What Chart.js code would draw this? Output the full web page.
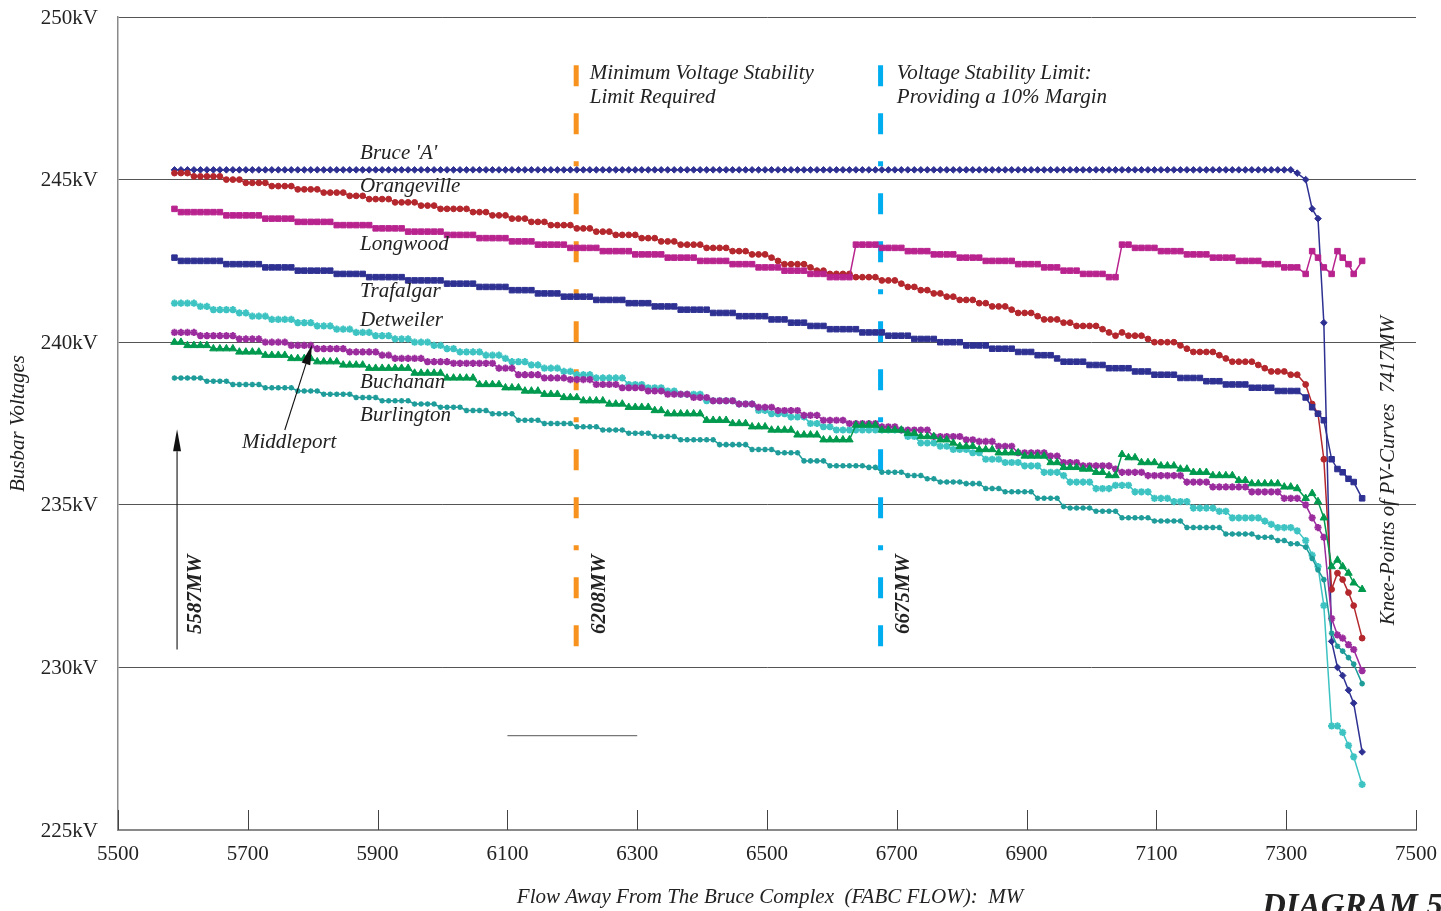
<!DOCTYPE html>
<html>
<head>
<meta charset="utf-8">
<script src="https://cdn.jsdelivr.net/npm/chart.js@4.4.1/dist/chart.umd.min.js"></script>
<style>
html,body{margin:0;padding:0;background:#fff;}
canvas{display:block;}
</style>
</head>
<body>
<canvas id="c" width="1441" height="911"></canvas>
<script>
// ---------- DATA ----------
const FLOW_MW = [
5587,5597,5607,5617,5627,5637,5647,5657,5667,5677,
5687,5697,5707,5717,5727,5737,5747,5757,5767,5777,
5787,5797,5807,5817,5827,5837,5847,5857,5867,5877,
5887,5897,5907,5917,5927,5937,5947,5957,5967,5977,
5987,5997,6007,6017,6027,6037,6047,6057,6067,6077,
6087,6097,6107,6117,6127,6137,6147,6157,6167,6177,
6187,6197,6207,6217,6227,6237,6247,6257,6267,6277,
6287,6297,6307,6317,6327,6337,6347,6357,6367,6377,
6387,6397,6407,6417,6427,6437,6447,6457,6467,6477,
6487,6497,6507,6517,6527,6537,6547,6557,6567,6577,
6587,6597,6607,6617,6627,6637,6647,6657,6667,6677,
6687,6697,6707,6717,6727,6737,6747,6757,6767,6777,
6787,6797,6807,6817,6827,6837,6847,6857,6867,6877,
6887,6897,6907,6917,6927,6937,6947,6957,6967,6977,
6987,6997,7007,7017,7027,7037,7047,7057,7067,7077,
7087,7097,7107,7117,7127,7137,7147,7157,7167,7177,
7187,7197,7207,7217,7227,7237,7247,7257,7267,7277,
7287,7297,7307,7317,
7330,7340,7349,7358,7370,7379,7387,7396,7404,7417];

const bruceA = [
245.3,245.3,245.3,245.3,245.3,245.3,245.3,245.3,245.3,245.3,
245.3,245.3,245.3,245.3,245.3,245.3,245.3,245.3,245.3,245.3,
245.3,245.3,245.3,245.3,245.3,245.3,245.3,245.3,245.3,245.3,
245.3,245.3,245.3,245.3,245.3,245.3,245.3,245.3,245.3,245.3,
245.3,245.3,245.3,245.3,245.3,245.3,245.3,245.3,245.3,245.3,
245.3,245.3,245.3,245.3,245.3,245.3,245.3,245.3,245.3,245.3,
245.3,245.3,245.3,245.3,245.3,245.3,245.3,245.3,245.3,245.3,
245.3,245.3,245.3,245.3,245.3,245.3,245.3,245.3,245.3,245.3,
245.3,245.3,245.3,245.3,245.3,245.3,245.3,245.3,245.3,245.3,
245.3,245.3,245.3,245.3,245.3,245.3,245.3,245.3,245.3,245.3,
245.3,245.3,245.3,245.3,245.3,245.3,245.3,245.3,245.3,245.3,
245.3,245.3,245.3,245.3,245.3,245.3,245.3,245.3,245.3,245.3,
245.3,245.3,245.3,245.3,245.3,245.3,245.3,245.3,245.3,245.3,
245.3,245.3,245.3,245.3,245.3,245.3,245.3,245.3,245.3,245.3,
245.3,245.3,245.3,245.3,245.3,245.3,245.3,245.3,245.3,245.3,
245.3,245.3,245.3,245.3,245.3,245.3,245.3,245.3,245.3,245.3,
245.3,245.3,245.3,245.3,245.3,245.3,245.3,245.3,245.3,245.3,
245.3,245.3,245.3,245.2,
245.0,244.1,243.8,240.6,230.8,230.0,229.75,229.3,228.9,227.4];

const orangeville = [
245.2,245.2,245.2,245.1,245.1,245.1,245.1,245.1,245.0,245.0,
245.0,244.9,244.9,244.9,244.9,244.8,244.8,244.8,244.8,244.7,
244.7,244.7,244.7,244.6,244.6,244.6,244.6,244.5,244.5,244.5,
244.4,244.4,244.4,244.4,244.3,244.3,244.3,244.3,244.2,244.2,
244.2,244.1,244.1,244.1,244.1,244.1,244.0,244.0,244.0,243.9,
243.9,243.9,243.8,243.8,243.8,243.7,243.7,243.7,243.6,243.6,
243.6,243.6,243.5,243.5,243.5,243.4,243.4,243.4,243.3,243.3,
243.3,243.3,243.2,243.2,243.2,243.1,243.1,243.1,243.0,243.0,
243.0,243.0,242.9,242.9,242.9,242.9,242.8,242.8,242.8,242.7,
242.7,242.7,242.6,242.5,242.4,242.4,242.4,242.4,242.3,242.2,
242.2,242.1,242.1,242.1,242.1,242.0,242.0,242.0,242.0,241.9,
241.9,241.9,241.8,241.7,241.7,241.6,241.6,241.5,241.5,241.4,
241.4,241.3,241.3,241.3,241.2,241.2,241.1,241.1,241.1,241.0,
240.9,240.9,240.9,240.8,240.7,240.7,240.7,240.6,240.6,240.5,
240.5,240.5,240.5,240.4,240.3,240.2,240.3,240.2,240.2,240.2,
240.1,240.0,240.0,240.0,240.0,239.9,239.8,239.7,239.7,239.7,
239.7,239.6,239.5,239.4,239.4,239.4,239.4,239.3,239.2,239.1,
239.1,239.1,239.0,239.0,
238.7,238.1,237.8,236.4,232.4,232.9,232.7,232.3,231.9,230.9];

const longwood = [
244.1,244.0,244.0,244.0,244.0,244.0,244.0,244.0,243.9,243.9,
243.9,243.9,243.9,243.9,243.8,243.8,243.8,243.8,243.8,243.7,
243.7,243.7,243.7,243.7,243.7,243.6,243.6,243.6,243.6,243.6,
243.6,243.5,243.5,243.5,243.5,243.5,243.4,243.4,243.4,243.4,
243.4,243.4,243.3,243.3,243.3,243.3,243.3,243.2,243.2,243.2,
243.2,243.2,243.1,243.1,243.1,243.1,243.0,243.0,243.0,243.0,
243.0,242.9,242.9,242.9,242.9,242.9,242.8,242.8,242.8,242.8,
242.8,242.7,242.7,242.7,242.7,242.7,242.6,242.6,242.6,242.6,
242.6,242.5,242.5,242.5,242.5,242.5,242.4,242.4,242.4,242.4,
242.3,242.3,242.3,242.3,242.2,242.2,242.2,242.2,242.1,242.1,
242.1,242.0,242.0,242.0,242.0,243.0,243.0,243.0,243.0,242.9,
242.9,242.9,242.9,242.8,242.8,242.8,242.8,242.7,242.7,242.7,
242.7,242.6,242.6,242.6,242.6,242.5,242.5,242.5,242.5,242.5,
242.4,242.4,242.4,242.4,242.3,242.3,242.3,242.2,242.2,242.2,
242.1,242.1,242.1,242.1,242.0,242.0,243.0,243.0,242.9,242.9,
242.9,242.9,242.8,242.8,242.8,242.8,242.7,242.7,242.7,242.7,
242.6,242.6,242.6,242.6,242.5,242.5,242.5,242.5,242.4,242.4,
242.4,242.3,242.3,242.3,
242.1,242.8,242.6,242.3,242.1,242.8,242.6,242.4,242.1,242.5];

const trafalgar = [
242.6,242.5,242.5,242.5,242.5,242.5,242.5,242.5,242.4,242.4,
242.4,242.4,242.4,242.4,242.3,242.3,242.3,242.3,242.3,242.2,
242.2,242.2,242.2,242.2,242.2,242.1,242.1,242.1,242.1,242.1,
242.0,242.0,242.0,242.0,242.0,242.0,241.9,241.9,241.9,241.9,
241.9,241.9,241.8,241.8,241.8,241.8,241.8,241.7,241.7,241.7,
241.7,241.7,241.6,241.6,241.6,241.6,241.5,241.5,241.5,241.5,
241.4,241.4,241.4,241.4,241.4,241.3,241.3,241.3,241.3,241.3,
241.2,241.2,241.2,241.2,241.1,241.1,241.1,241.1,241.0,241.0,
241.0,241.0,241.0,240.9,240.9,240.9,240.9,240.8,240.8,240.8,
240.8,240.8,240.7,240.7,240.7,240.6,240.6,240.6,240.5,240.5,
240.5,240.4,240.4,240.4,240.4,240.4,240.3,240.3,240.3,240.3,
240.2,240.2,240.2,240.2,240.1,240.1,240.1,240.1,240.0,240.0,
240.0,240.0,239.9,239.9,239.9,239.9,239.8,239.8,239.8,239.8,
239.7,239.7,239.7,239.6,239.6,239.6,239.5,239.4,239.4,239.4,
239.4,239.3,239.3,239.3,239.2,239.2,239.2,239.2,239.1,239.1,
239.1,239.0,239.0,239.0,239.0,238.9,238.9,238.9,238.9,238.8,
238.8,238.8,238.7,238.7,238.7,238.7,238.6,238.6,238.6,238.6,
238.5,238.5,238.5,238.5,
238.3,238.0,237.8,237.6,236.4,236.1,236.0,235.8,235.7,235.2];

const detweiler = [
241.2,241.2,241.2,241.2,241.1,241.1,241.0,241.0,241.0,241.0,
240.9,240.9,240.8,240.8,240.8,240.7,240.7,240.7,240.7,240.6,
240.6,240.6,240.5,240.5,240.5,240.4,240.4,240.4,240.3,240.3,
240.3,240.2,240.2,240.2,240.1,240.1,240.1,240.0,240.0,240.0,
239.9,239.9,239.8,239.8,239.7,239.7,239.7,239.7,239.6,239.6,
239.6,239.5,239.4,239.4,239.4,239.3,239.3,239.2,239.2,239.2,
239.1,239.1,239.0,239.0,239.0,238.9,238.9,238.9,238.9,238.9,
238.7,238.7,238.7,238.6,238.6,238.6,238.5,238.5,238.4,238.4,
238.4,238.4,238.2,238.2,238.2,238.2,238.2,238.1,238.1,238.1,
237.9,237.9,237.8,237.8,237.8,237.7,237.7,237.7,237.5,237.5,
237.4,237.4,237.3,237.3,237.3,237.3,237.3,237.3,237.3,237.3,
237.3,237.3,237.3,237.1,237.1,236.9,236.9,236.9,236.8,236.8,
236.7,236.7,236.7,236.6,236.6,236.4,236.4,236.4,236.3,236.3,
236.3,236.2,236.2,236.2,236.0,236.0,236.0,235.9,235.7,235.7,
235.7,235.7,235.5,235.5,235.5,235.6,235.6,235.6,235.4,235.4,
235.4,235.2,235.2,235.2,235.1,235.1,235.1,234.9,234.9,234.9,
234.9,234.8,234.8,234.6,234.6,234.6,234.6,234.6,234.5,234.4,
234.3,234.3,234.3,234.2,
233.9,233.45,233.1,231.9,228.2,228.2,228.0,227.6,227.25,226.4];

const middleport = [
240.3,240.3,240.3,240.3,240.2,240.2,240.2,240.2,240.2,240.2,
240.1,240.1,240.1,240.1,240.0,240.0,240.0,240.0,239.9,239.9,
239.9,239.9,239.8,239.8,239.8,239.8,239.8,239.7,239.7,239.7,
239.7,239.7,239.6,239.6,239.5,239.5,239.5,239.5,239.5,239.4,
239.4,239.4,239.4,239.35,239.35,239.35,239.35,239.35,239.35,239.35,
239.2,239.2,239.2,239.0,239.0,239.0,239.0,238.9,238.9,238.9,
238.9,238.85,238.85,238.85,238.85,238.7,238.7,238.7,238.7,238.6,
238.6,238.6,238.6,238.5,238.5,238.5,238.4,238.4,238.4,238.4,
238.3,238.3,238.3,238.2,238.2,238.2,238.2,238.1,238.1,238.1,
238.0,238.0,238.0,237.9,237.9,237.9,237.9,237.75,237.75,237.75,
237.6,237.6,237.6,237.6,237.5,237.5,237.5,237.5,237.5,237.4,
237.4,237.4,237.3,237.3,237.3,237.3,237.3,237.1,237.1,237.1,
237.1,237.1,237.0,237.0,236.95,236.95,236.95,236.8,236.8,236.8,
236.6,236.6,236.6,236.6,236.6,236.5,236.5,236.3,236.3,236.3,
236.2,236.2,236.2,236.2,236.2,236.1,236.0,236.0,236.0,236.0,
235.9,235.9,235.9,235.9,235.9,235.9,235.7,235.7,235.7,235.7,
235.55,235.55,235.55,235.55,235.55,235.55,235.4,235.4,235.4,235.4,
235.4,235.2,235.2,235.2,
235.0,234.6,234.3,234.0,231.5,231.0,230.9,230.7,230.55,229.9];

const buchanan = [
240.0,240.0,239.9,239.9,239.9,239.9,239.8,239.8,239.8,239.8,
239.7,239.7,239.7,239.7,239.6,239.6,239.6,239.6,239.5,239.5,
239.5,239.5,239.4,239.4,239.4,239.4,239.3,239.3,239.3,239.3,
239.2,239.2,239.2,239.2,239.2,239.2,239.2,239.05,239.05,239.05,
239.05,239.05,238.9,238.9,238.9,238.9,238.9,238.7,238.7,238.7,
238.7,238.6,238.6,238.6,238.5,238.5,238.5,238.4,238.4,238.4,
238.3,238.3,238.3,238.2,238.2,238.2,238.2,238.1,238.1,238.1,
238.0,238.0,238.0,238.0,237.9,237.9,237.8,237.8,237.8,237.8,
237.8,237.8,237.6,237.6,237.6,237.6,237.5,237.5,237.5,237.4,
237.4,237.4,237.3,237.3,237.3,237.3,237.15,237.15,237.15,237.15,
237.0,237.0,237.0,237.0,237.0,237.45,237.45,237.45,237.45,237.3,
237.3,237.3,237.3,237.2,237.2,237.1,237.1,237.1,237.0,237.0,
236.9,236.8,236.8,236.8,236.7,236.7,236.7,236.6,236.6,236.6,
236.6,236.5,236.5,236.5,236.5,236.3,236.3,236.15,236.15,236.15,
236.1,236.1,236.0,236.0,235.9,235.9,236.55,236.45,236.45,236.3,
236.3,236.3,236.2,236.2,236.2,236.1,236.1,236.0,236.0,236.0,
235.9,235.9,235.9,235.9,235.75,235.75,235.65,235.65,235.65,235.65,
235.65,235.55,235.55,235.5,
235.2,235.35,235.1,234.6,233.1,233.3,233.1,232.9,232.6,232.4];

const burlington = [
238.9,238.9,238.9,238.9,238.9,238.8,238.8,238.8,238.8,238.7,
238.7,238.7,238.7,238.7,238.6,238.6,238.6,238.6,238.6,238.5,
238.5,238.5,238.5,238.4,238.4,238.4,238.4,238.4,238.3,238.3,
238.3,238.3,238.2,238.2,238.2,238.2,238.2,238.1,238.1,238.1,
238.1,238.0,238.0,238.0,238.0,237.9,237.9,237.9,237.9,237.8,
237.8,237.8,237.8,237.6,237.6,237.6,237.6,237.5,237.5,237.5,
237.5,237.5,237.4,237.4,237.4,237.4,237.3,237.3,237.3,237.3,
237.2,237.2,237.2,237.2,237.1,237.1,237.1,237.1,237.0,237.0,
237.0,237.0,237.0,237.0,236.85,236.85,236.85,236.85,236.85,236.7,
236.7,236.7,236.7,236.6,236.6,236.6,236.6,236.35,236.35,236.35,
236.35,236.2,236.2,236.2,236.2,236.2,236.2,236.15,236.15,236.0,
236.0,236.0,236.0,235.9,235.9,235.9,235.8,235.8,235.7,235.7,
235.7,235.7,235.65,235.65,235.65,235.5,235.5,235.5,235.4,235.4,
235.4,235.4,235.4,235.2,235.2,235.2,235.2,234.95,234.9,234.9,
234.9,234.9,234.8,234.8,234.8,234.8,234.6,234.6,234.6,234.6,
234.6,234.5,234.5,234.5,234.5,234.5,234.3,234.3,234.3,234.3,
234.3,234.3,234.1,234.1,234.1,234.1,234.1,234.0,234.0,234.0,
233.9,233.9,233.8,233.8,
233.7,233.35,233.0,232.7,231.05,230.65,230.5,230.3,230.1,229.5];

const SERIES_NAMES = ["Bruce 'A'","Orangeville","Longwood","Trafalgar","Detweiler","Middleport","Buchanan","Burlington"];
const SERIES_VALUES = [bruceA, orangeville, longwood, trafalgar, detweiler, middleport, buchanan, burlington];

// vertical limit lines (MW) and their span (kV)
const LIMIT_MW = [6206, 6675];
const LIMIT_SPAN_KV = [248.52, 230.63];
const LIMIT_LABELS = ["6208MW", "6675MW"];
const START_MW = 5587;
const START_LABEL = "5587MW";
const KNEE_LABEL = "Knee-Points of PV-Curves  7417MW";
// stray short rule under the curves
const RULE_MW = [6100, 6300];
const RULE_KV = 227.9;

const Y_MIN = 225, Y_MAX = 250, Y_STEP = 5;
const X_MIN = 5500, X_MAX = 7500, X_STEP = 200;
const Y_UNIT = 'kV';

// ---------- STYLES ----------
const STYLE = [
  {color:'#2E3192', point:'rectRot', r:3.3, bw:1},
  {color:'#B3272D', point:'circle',  r:2.9, bw:1},
  {color:'#B8238E', point:'rect',    r:3.9, bw:1},
  {color:'#2E3192', point:'rect',    r:3.9, bw:1},
  {color:'#3EC3C3', point:'star',    r:3.6, bw:2},
  {color:'#9B2C9D', point:'star',    r:3.6, bw:2},
  {color:'#009A4E', point:'triangle',r:4.3, bw:1},
  {color:'#1E9C9A', point:'star',    r:2.8, bw:1.6}
];
const SERIF = '"Liberation Serif", "Times New Roman", serif';

const datasets = [];
const limitColors = ['#F7921E', '#00AEEF'];
LIMIT_MW.forEach((mw, k) => {
  datasets.push({
    data: [{x: mw, y: LIMIT_SPAN_KV[0]}, {x: mw, y: LIMIT_SPAN_KV[1]}],
    borderColor: limitColors[k], borderWidth: 5,
    borderDash: [21, 27, 21, 27, 5, 27],
    pointRadius: 0, showLine: true, order: 20
  });
});
datasets.push({
  data: [{x: RULE_MW[0], y: RULE_KV}, {x: RULE_MW[1], y: RULE_KV}],
  borderColor: '#777', borderWidth: 1.3, pointRadius: 0, showLine: true, order: 20
});
SERIES_VALUES.forEach((vals, k) => {
  const s = STYLE[k];
  datasets.push({
    label: SERIES_NAMES[k],
    data: FLOW_MW.map((x, i) => ({x: x, y: vals[i]})),
    borderColor: s.color, backgroundColor: s.color,
    pointBackgroundColor: s.color, pointBorderColor: s.color,
    pointStyle: s.point, pointRadius: s.r, pointBorderWidth: s.bw,
    borderWidth: 1.5, showLine: true, tension: 0, order: 10 - k
  });
});

// annotation texts (positions in data units)
const TEXTS = [
  {t:"Bruce 'A'",   x:5873, y:245.8},
  {t:"Orangeville", x:5873, y:244.8},
  {t:"Longwood",    x:5873, y:243.0},
  {t:"Trafalgar",   x:5873, y:241.55},
  {t:"Detweiler",   x:5873, y:240.68},
  {t:"Buchanan",    x:5873, y:238.75},
  {t:"Burlington",  x:5873, y:237.74},
  {t:"Middleport",  x:5691, y:236.93},
  {t:"Minimum Voltage Stability", x:6227, y:248.25},
  {t:"Limit Required",            x:6227, y:247.51},
  {t:"Voltage Stability Limit:",  x:6700, y:248.25},
  {t:"Providing a 10% Margin",    x:6700, y:247.51}
];

function arrow(ctx, x1, y1, x2, y2, len, half) {
  const a = Math.atan2(y2 - y1, x2 - x1);
  const bx = x2 - len * Math.cos(a), by = y2 - len * Math.sin(a);
  ctx.beginPath(); ctx.moveTo(x1, y1); ctx.lineTo(bx, by); ctx.stroke();
  ctx.beginPath();
  ctx.moveTo(x2, y2);
  ctx.lineTo(bx + half * Math.sin(a), by - half * Math.cos(a));
  ctx.lineTo(bx - half * Math.sin(a), by + half * Math.cos(a));
  ctx.closePath(); ctx.fill();
}

const annot = {
  id: 'annot',
  beforeDatasetsDraw(chart) {
    const {ctx, scales: {x, y}, chartArea: ca} = chart;
    ctx.save();
    // inward x tick marks
    ctx.strokeStyle = '#444'; ctx.lineWidth = 1;
    x.ticks.forEach(t => {
      const px = Math.round(x.getPixelForValue(t.value)) + 0.5;
      ctx.beginPath(); ctx.moveTo(px, ca.bottom); ctx.lineTo(px, ca.bottom - 20); ctx.stroke();
    });
    // tick labels (from the library's tick lists)
    ctx.fillStyle = '#222';
    ctx.font = '21px ' + SERIF;
    ctx.textAlign = 'right'; ctx.textBaseline = 'middle';
    y.ticks.forEach(t => ctx.fillText(t.value + Y_UNIT, ca.left - 20, y.getPixelForValue(t.value) + 1));
    ctx.textAlign = 'center'; ctx.textBaseline = 'top';
    x.ticks.forEach(t => ctx.fillText(String(t.value), x.getPixelForValue(t.value), ca.bottom + 14));
    ctx.restore();
  },
  afterDatasetsDraw(chart) {
    const {ctx, scales: {x, y}, chartArea: ca} = chart;
    ctx.save();
    ctx.fillStyle = '#222';
    ctx.font = 'italic 21px ' + SERIF;
    ctx.textAlign = 'left'; ctx.textBaseline = 'middle';
    TEXTS.forEach(o => ctx.fillText(o.t, x.getPixelForValue(o.x), y.getPixelForValue(o.y)));

    // arrows
    ctx.strokeStyle = '#111'; ctx.fillStyle = '#111'; ctx.lineWidth = 1.1;
    arrow(ctx, x.getPixelForValue(5591), y.getPixelForValue(230.55),
               x.getPixelForValue(5591), y.getPixelForValue(237.32), 22, 4);
    arrow(ctx, x.getPixelForValue(5757), y.getPixelForValue(237.3),
               x.getPixelForValue(5799), y.getPixelForValue(239.92), 20, 4.5);

    // rotated MW labels
    ctx.fillStyle = '#222';
    ctx.font = 'bold italic 21px ' + SERIF;
    ctx.textAlign = 'center';
    const rot = (txt, px, py) => {
      ctx.save(); ctx.translate(px, py); ctx.rotate(-Math.PI / 2);
      ctx.fillText(txt, 0, 0); ctx.restore();
    };
    const yLab = y.getPixelForValue(232.25);
    rot(START_LABEL, x.getPixelForValue(START_MW) + 21, yLab);
    LIMIT_LABELS.forEach((l, k) => rot(l, x.getPixelForValue(LIMIT_MW[k]) + 23, yLab));
    ctx.font = 'italic 21px ' + SERIF;
    rot(KNEE_LABEL, x.getPixelForValue(7457), y.getPixelForValue(236.05));

    // axis titles
    ctx.font = 'italic 21px ' + SERIF;
    rot('Busbar Voltages', ca.left - 100, (ca.top + ca.bottom) / 2);
    ctx.textAlign = 'center';
    ctx.fillText('Flow Away From The Bruce Complex  (FABC FLOW):  MW', (ca.left + ca.right) / 2 + 3, ca.bottom + 67);
    ctx.font = 'bold italic 33px ' + SERIF;
    ctx.textAlign = 'left'; ctx.textBaseline = 'alphabetic';
    ctx.fillText('DIAGRAM 5', ca.right - 154, ca.bottom + 86);
    ctx.restore();
  }
};

new Chart(document.getElementById('c'), {
  type: 'scatter',
  data: { datasets },
  options: {
    responsive: false, animation: false, devicePixelRatio: 1,
    layout: { padding: { top: 17, right: 25, left: 0, bottom: 0 } },
    plugins: { legend: { display: false }, tooltip: { enabled: false } },
    scales: {
      x: {
        type: 'linear', min: X_MIN, max: X_MAX,
        ticks: { stepSize: X_STEP, display: false, maxRotation: 0, autoSkip: false },
        grid: { display: false, drawTicks: false },
        border: { display: true, color: '#8a8a8a', width: 2 },
        afterFit: s => { s.height = 81; }
      },
      y: {
        min: Y_MIN, max: Y_MAX,
        ticks: { stepSize: Y_STEP, display: false },
        grid: { color: '#555', lineWidth: 1, drawTicks: false },
        border: { display: true, color: '#8a8a8a', width: 1.5 },
        afterFit: s => { s.width = 118; }
      }
    }
  },
  plugins: [annot]
});
</script>
</body>
</html>
